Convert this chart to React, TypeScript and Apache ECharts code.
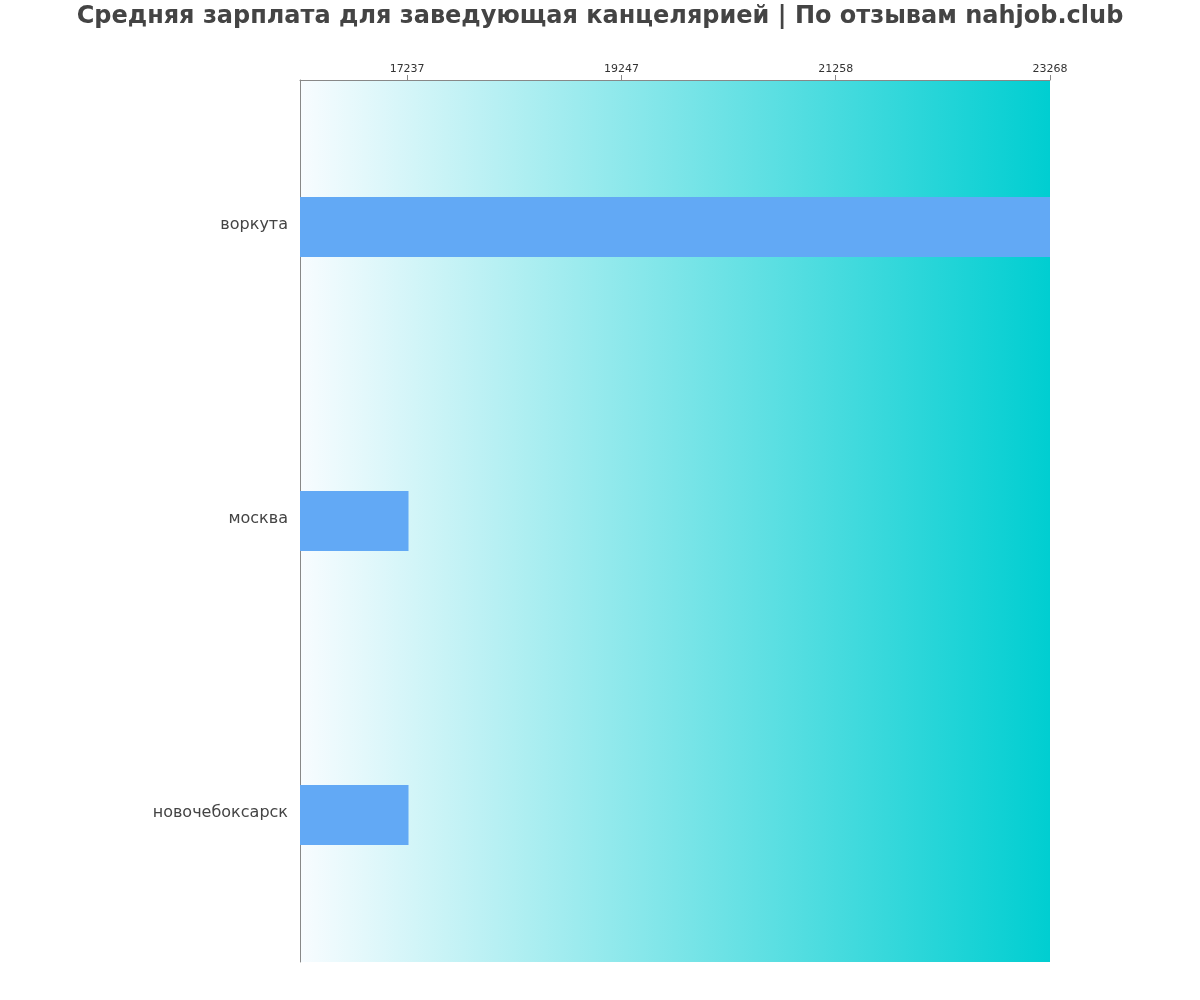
import * as echarts from 'echarts';
import { useEffect, useRef } from 'react';

const cities = ['воркута', 'москва', 'новочебоксарск'];
const salaries = [23268, 17250, 17250];
const tickValues = [17237, 19247, 21258, 23268];
const axisMin = 16232;
const axisMax = 23268;

export default function App() {
    const chartRef = useRef<HTMLDivElement>(null);

    useEffect(() => {
        if (!chartRef.current) return;

        const chart = echarts.init(chartRef.current, null, { renderer: 'svg' });

        const option: echarts.EChartsOption = {
            animation: false,
            textStyle: { fontFamily: 'DejaVu Sans' },
            title: {
                text: 'Средняя зарплата для заведующая канцелярией | По отзывам nahjob.club',
                left: 'center',
                top: -2,
                textStyle: {
                    fontSize: 24,
                    fontWeight: 'bold',
                    color: '#444',
                    fontFamily: 'DejaVu Sans',
                },
            },
            grid: {
                left: 300,
                right: 150,
                top: 80,
                bottom: 38,
                show: true,
                borderWidth: 0,
                backgroundColor: new echarts.graphic.LinearGradient(0, 0, 1, 0, [
                    { offset: 0, color: '#f8fcff' },
                    { offset: 1, color: '#00ced1' },
                ]),
            },
            xAxis: {
                type: 'value',
                position: 'top',
                min: axisMin,
                max: axisMax,
                splitLine: { show: false },
                axisLine: { show: true, lineStyle: { color: '#888' } },
                axisTick: { show: true, customValues: tickValues, lineStyle: { color: '#888' } },
                axisLabel: {
                    customValues: tickValues,
                    fontSize: 11,
                    color: '#333',
                    margin: 6,
                    formatter: (v: number) => String(Math.round(v)),
                },
            },
            yAxis: {
                type: 'category',
                data: cities,
                inverse: true,
                axisLine: { show: true, lineStyle: { color: '#888' } },
                axisTick: { show: false },
                axisLabel: {
                    margin: 12,
                    formatter: (v: string) => `{c|${v}}`,
                    rich: {
                        c: { fontSize: 16, color: '#444', padding: [0, 0, 8, 0] },
                    },
                },
            },
            series: [
                {
                    type: 'bar',
                    data: salaries,
                    barWidth: 60,
                    itemStyle: { color: '#62a9f5' },
                },
            ],
        };

        chart.setOption(option);

        return () => {
            chart.dispose();
        };
    }, []);

    return (
        <div
            ref={chartRef}
            style={{ position: 'fixed', left: 0, top: 0, width: '1200px', height: '1000px' }}
        />
    );
}
